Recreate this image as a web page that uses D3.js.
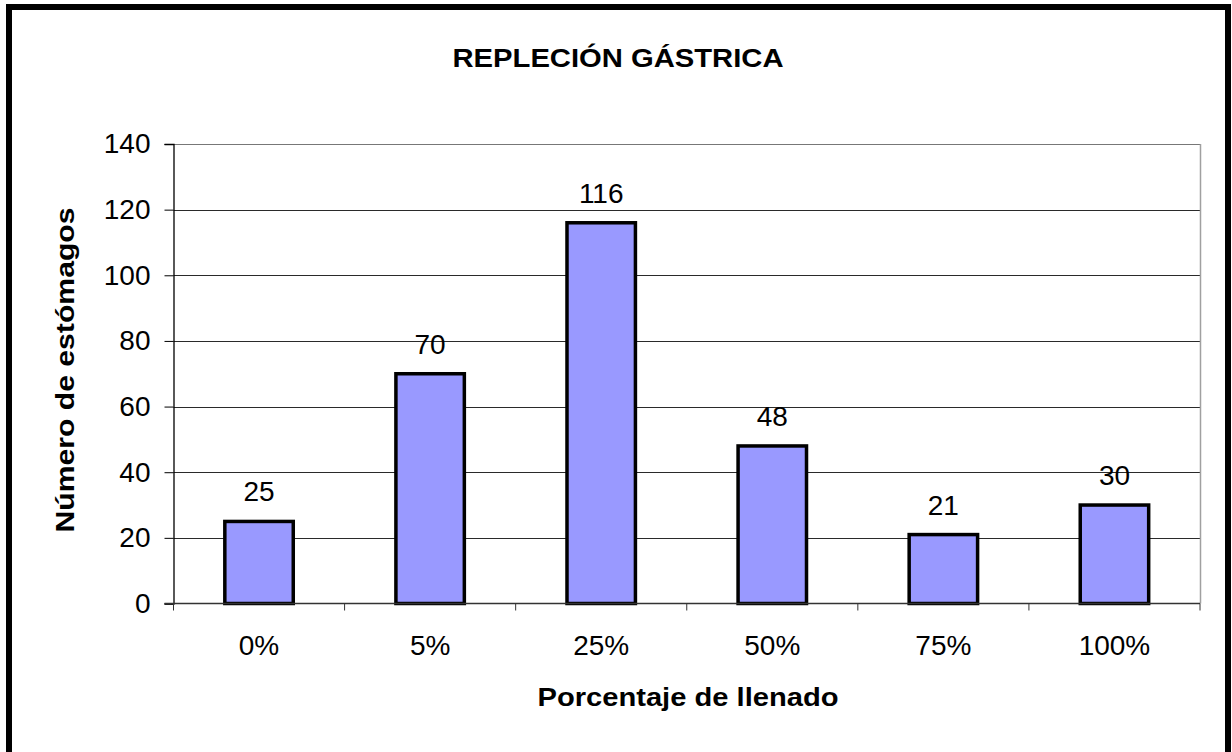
<!DOCTYPE html>
<html>
<head>
<meta charset="utf-8">
<script src="https://cdn.jsdelivr.net/npm/d3@7"></script>
<style>
  html, body { margin: 0; padding: 0; background: #fff; }
  svg { display: block; font-family: "Liberation Sans", Arial, sans-serif; }
</style>
</head>
<body>
<svg id="chart" width="1232" height="752"></svg>
<script>
const categories = ["0%", "5%", "25%", "50%", "75%", "100%"];
const values = [25, 70, 116, 48, 21, 30];
const yTicks = [0, 20, 40, 60, 80, 100, 120, 140];
const titleText = "REPLECIÓN GÁSTRICA";
const xTitle = "Porcentaje de llenado";
const yTitle = "Número de estómagos";

const svg = d3.select("#chart");
const m = { left: 173.5, right: 1200, top: 144, bottom: 603.5 };

// outer frame
svg.append("rect").attr("x", 9).attr("y", 7).attr("width", 1219).attr("height", 800)
  .attr("fill", "#fff").attr("stroke", "#000").attr("stroke-width", 6);

const x = d3.scaleBand().domain(categories).range([m.left, m.right]).paddingInner(0.6).paddingOuter(0.3);
const xb = d3.scaleBand().domain(categories).range([m.left, m.right]);
const y = d3.scaleLinear().domain([0, 140]).range([m.bottom, m.top]);

// gridlines
svg.append("g").selectAll("line").data(yTicks.filter(d => d > 0)).join("line")
  .attr("x1", m.left).attr("x2", m.right)
  .attr("y1", d => Math.round(y(d)) + 0.5).attr("y2", d => Math.round(y(d)) + 0.5)
  .attr("stroke", d => d === 140 ? "#777" : "#2a2a2a").attr("stroke-width", 1.2);

// right plot border
svg.append("line").attr("x1", m.right + 0.5).attr("x2", m.right + 0.5)
  .attr("y1", m.top).attr("y2", m.bottom).attr("stroke", "#a0a0a0").attr("stroke-width", 1.5);

// bars
svg.append("g").selectAll("rect").data(values).join("rect")
  .attr("x", (d, i) => x(categories[i]))
  .attr("width", x.bandwidth())
  .attr("y", d => y(d))
  .attr("height", d => y(0) - y(d))
  .attr("fill", "#9999ff").attr("stroke", "#000").attr("stroke-width", 3.5);

// value labels
svg.append("g").selectAll("text").data(values).join("text")
  .attr("x", (d, i) => x(categories[i]) + x.bandwidth() / 2)
  .attr("y", d => y(d) - 20)
  .attr("text-anchor", "middle").attr("font-size", 28).attr("fill", "#000")
  .text(d => d);

// y axis
const yAxis = d3.axisLeft(y).tickValues(yTicks).tickSize(9).tickPadding(14);
const gy = svg.append("g").attr("transform", `translate(${m.left},0)`).call(yAxis);
gy.select(".domain").attr("stroke", "#000").attr("stroke-width", 1.3);
gy.selectAll(".tick line").attr("stroke", "#000").attr("stroke-width", 1);
gy.selectAll(".tick text").attr("font-size", 28).attr("fill", "#000")
  .attr("font-family", "'Liberation Sans', Arial, sans-serif");

// x axis baseline and ticks at category boundaries
svg.append("line").attr("x1", m.left - 9).attr("x2", m.right)
  .attr("y1", m.bottom).attr("y2", m.bottom).attr("stroke", "#333").attr("stroke-width", 1.5);
const bounds = categories.map(c => xb(c)).concat([m.right]);
svg.append("g").selectAll("line").data(bounds).join("line")
  .attr("x1", d => d).attr("x2", d => d)
  .attr("y1", m.bottom).attr("y2", m.bottom + 7)
  .attr("stroke", "#333").attr("stroke-width", 1);
svg.append("g").selectAll("text").data(categories).join("text")
  .attr("x", d => xb(d) + xb.bandwidth() / 2)
  .attr("y", 655)
  .attr("text-anchor", "middle").attr("font-size", 28).attr("fill", "#000")
  .text(d => d);

// titles
svg.append("text").attr("x", 618).attr("y", 67).attr("text-anchor", "middle")
  .attr("font-size", 25.5).attr("font-weight", "bold")
  .attr("textLength", 331).attr("lengthAdjust", "spacingAndGlyphs")
  .text(titleText);
svg.append("text").attr("x", 688).attr("y", 706).attr("text-anchor", "middle")
  .attr("font-size", 25).attr("font-weight", "bold")
  .attr("textLength", 301).attr("lengthAdjust", "spacingAndGlyphs")
  .text(xTitle);
svg.append("text").attr("transform", "translate(74,370) rotate(-90)").attr("text-anchor", "middle")
  .attr("font-size", 25).attr("font-weight", "bold")
  .attr("textLength", 325).attr("lengthAdjust", "spacingAndGlyphs")
  .text(yTitle);
</script>
</body>
</html>
